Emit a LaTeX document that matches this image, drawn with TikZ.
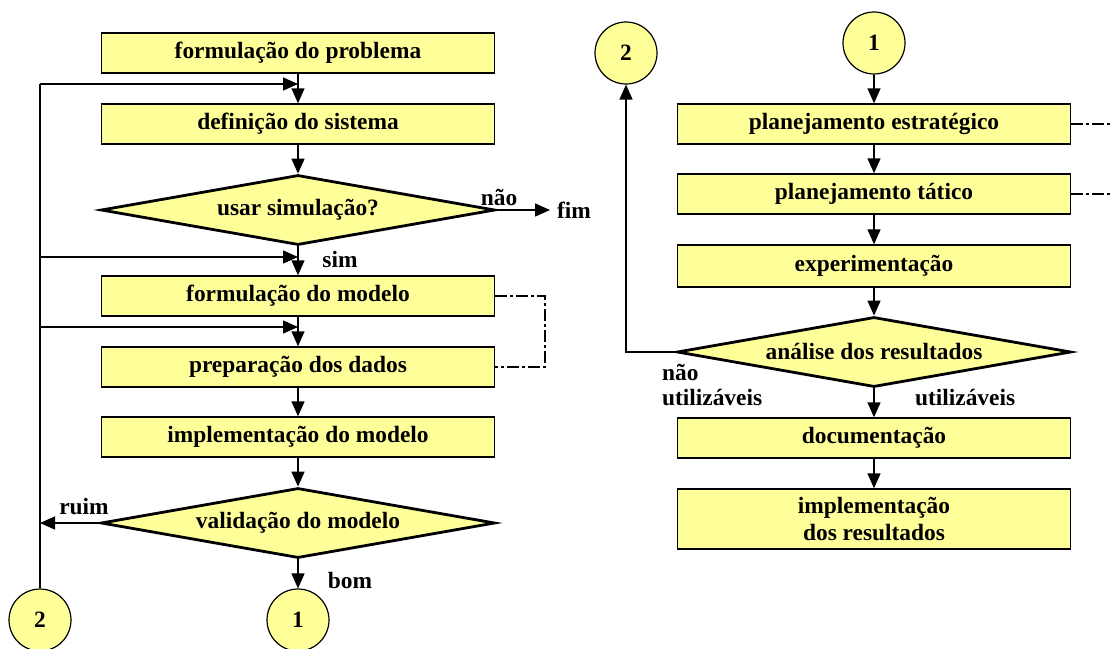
\documentclass[tikz,border=0pt]{standalone}
\usepackage{fontspec}
\setmainfont{Liberation Serif}
\usetikzlibrary{shapes.geometric,arrows.meta}
\definecolor{boxyellow}{RGB}{255,255,153}

\begin{document}
\begin{tikzpicture}[x=0.5pt,y=-0.5pt,
  font=\bfseries\fontsize{11.7}{13.5}\selectfont,
  box/.style={draw,line width=0.7pt,fill=boxyellow,minimum width=196.5pt,minimum height=20pt,inner sep=0pt,align=center},
  decision/.style={draw,line width=1.4pt,fill=boxyellow,diamond,aspect=5.6,inner sep=0pt,minimum width=197pt,minimum height=35pt},
  conn/.style={circle,draw,line width=0.6pt,fill=boxyellow,minimum size=31pt,inner sep=0pt},
  arr/.style={-{Triangle[length=7.5pt,width=6.5pt]},line width=0.7pt},
  link/.style={line width=0.7pt,dash pattern=on 6pt off 1.5pt on 1.5pt off 1.5pt}]
\useasboundingbox (0,0) rectangle (1111,648);

% left column
\node[box] (prob) at (298,53) {formulação do problema};
\node[box] (sis) at (298,124) {definição do sistema};
\node[decision] (usar) at (298,210) {usar simulação?};
\node[box] (modelo) at (298,296) {formulação do modelo};
\node[box] (dados) at (298,367) {preparação dos dados};
\node[box] (impl) at (298,437) {implementação do modelo};
\node[decision] (valid) at (298,523) {validação do modelo};
\node[conn] (c2l) at (40,620) {2};
\node[conn] (c1l) at (298,620) {1};
\node[anchor=west] (fim) at (550,210) {fim};

\draw[arr] (prob) -- (sis);
\draw[arr] (sis) -- (usar);
\draw[arr] (usar) -- (modelo);
\draw[arr] (modelo) -- (dados);
\draw[arr] (dados) -- (impl);
\draw[arr] (impl) -- (valid);
\draw[arr] (valid) -- (c1l);
\draw[arr] (usar.east) -- (usar.east -| fim.west);

% return line
\coordinate (back1) at (40,84);
\coordinate (back2) at (40,257);
\coordinate (back3) at (40,327);
\coordinate (back4) at (40,523);
\draw[line width=0.7pt] (c2l) -- (back1);
\draw[arr] (back1) -- (298,84);
\draw[arr] (back2) -- (298,257);
\draw[arr] (back3) -- (298,327);
\draw[arr] (valid.west) -- (back4);
\draw[link] (modelo.east) -- (545,296) -- (545,367) -- (dados.east);

\node at (499,197) {não};
\node at (340,259) {sim};
\node at (84,507) {ruim};
\node at (350,580) {bom};

% right column
\node[conn] (c1r) at (874,43) {1};
\node[conn] (c2r) at (626,53) {2};
\node[box] (estr) at (874,124) {planejamento estratégico};
\node[box] (tat) at (874,194) {planejamento tático};
\node[box,minimum height=21pt] (exp) at (874,266) {experimentação};
\node[decision] (ana) at (874,352) {análise dos resultados};
\node[box] (doc) at (874,438) {documentação};
\node[box,minimum height=30pt] (res) at (874,519) {implementação\\dos resultados};

\draw[arr] (c1r) -- (estr);
\draw[arr] (estr) -- (tat);
\draw[arr] (tat) -- (exp);
\draw[arr] (exp) -- (ana);
\draw[arr] (ana) -- (doc);
\draw[arr] (doc) -- (res);
\draw[arr] (ana.west) -- (626,352) -- (c2r);
\draw[link] (estr.east) -- (1111,124);
\draw[link] (tat.east) -- (1111,194);

\node[anchor=west] at (655,372) {não};
\node[anchor=west] at (655,398) {utilizáveis};
\node[anchor=west] at (908,398) {utilizáveis};
\end{tikzpicture}
\end{document}
